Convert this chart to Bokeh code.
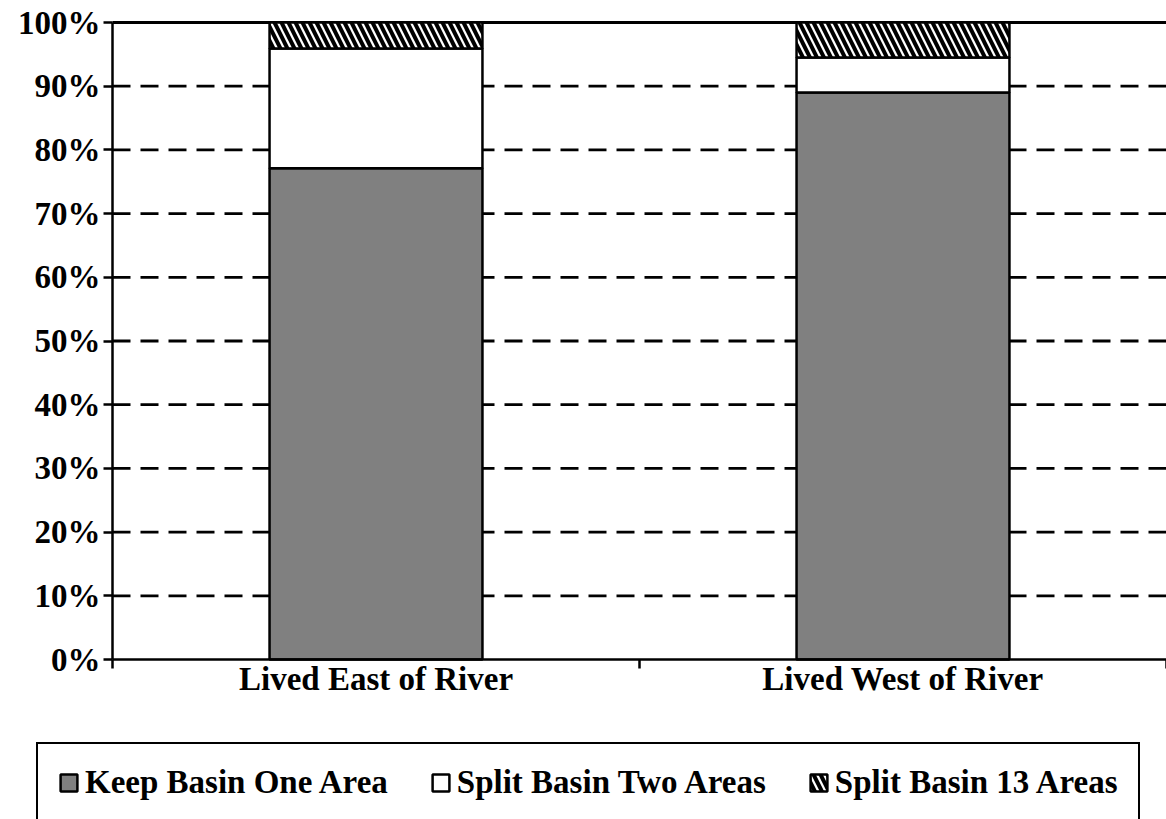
from bokeh.plotting import figure
from bokeh.models import (ColumnDataSource, FixedTicker, Legend, LegendItem, Range1d)
from bokeh.embed import file_html
from bokeh.resources import INLINE

categories = ["Lived East of River", "Lived West of River"]
series_names = ["Keep Basin One Area", "Split Basin Two Areas", "Split Basin 13 Areas"]
keep_one = [0.771, 0.890]
split_two = [0.188, 0.055]
split_13 = [0.041, 0.055]
y_ticks = [0.0, 0.1, 0.2, 0.3, 0.4, 0.5, 0.6, 0.7, 0.8, 0.9, 1.0]
y_labels = ["0%", "10%", "20%", "30%", "40%", "50%", "60%", "70%", "80%", "90%", "100%"]

FONT = "Liberation Serif"
FS = "33px"

# layout geometry (pixels)
W, H = 1166, 819
AXIS_LEFT_PX, TOP_PX, ZERO_PX = 112, 22, 659
n = len(categories)
px_per_y = (ZERO_PX - TOP_PX) / 1.0
px_per_x = (W - AXIS_LEFT_PX) / n

xpos = [i + 0.5 for i in range(n)]
source = ColumnDataSource(dict(x=xpos, keep=keep_one, two=split_two, s13=split_13))

p = figure(width=W, height=H, output_backend="svg", toolbar_location=None,
           x_range=Range1d(-AXIS_LEFT_PX / px_per_x, n),
           y_range=Range1d(-(H - ZERO_PX) / px_per_y, 1 + TOP_PX / px_per_y),
           min_border=0)
p.outline_line_color = None
p.background_fill_color = "white"
p.border_fill_color = "white"
p.xgrid.visible = False
p.ygrid.visible = False

# dashed gridlines (10%..90%) and solid line at 100%
grid_vals = y_ticks[1:-1]
p.segment(x0=[0] * len(grid_vals), x1=[n] * len(grid_vals), y0=grid_vals, y1=grid_vals,
          line_color="black", line_width=2.8, line_dash="18 10")
p.segment(x0=[0], x1=[n], y0=[y_ticks[-1]], y1=[y_ticks[-1]], line_color="black", line_width=2.8)

renderers = p.vbar_stack(["keep", "two", "s13"], x="x", width=0.404, source=source,
                         fill_color=["#808080", "white", "white"], line_color="black", line_width=2.5,
                         hatch_pattern=[" ", " ", "left_diagonal_line"], hatch_color="black",
                         hatch_scale=14, hatch_weight=4)

# y axis
p.yaxis.fixed_location = 0
p.yaxis.bounds = (0, 1)
p.yaxis.ticker = FixedTicker(ticks=y_ticks)
p.yaxis.major_label_overrides = {t: l for t, l in zip(y_ticks, y_labels)}
p.yaxis.major_label_text_font = FONT
p.yaxis.major_label_text_font_style = "bold"
p.yaxis.major_label_text_font_size = FS
p.yaxis.major_label_text_color = "black"
p.yaxis.axis_line_width = 2.5
p.yaxis.major_tick_line_width = 2.5
p.yaxis.major_tick_out = 9
p.yaxis.major_tick_in = 0
p.yaxis.minor_tick_line_color = None
p.yaxis.major_label_standoff = 3

# x axis
p.xaxis.fixed_location = 0
p.xaxis.bounds = (0, n)
p.xaxis.ticker = FixedTicker(ticks=xpos, minor_ticks=list(range(n + 1)))
p.xaxis.major_label_overrides = {x: c for x, c in zip(xpos, categories)}
p.xaxis.major_label_text_font = FONT
p.xaxis.major_label_text_font_style = "bold"
p.xaxis.major_label_text_font_size = FS
p.xaxis.major_label_text_color = "black"
p.xaxis.axis_line_width = 2.5
p.xaxis.major_tick_line_color = None
p.xaxis.major_tick_out = 0
p.xaxis.major_tick_in = 0
p.xaxis.minor_tick_line_width = 2.5
p.xaxis.minor_tick_out = 9
p.xaxis.minor_tick_in = 0
p.xaxis.major_label_standoff = -8

legend = Legend(items=[LegendItem(label=nm, renderers=[r]) for nm, r in zip(series_names, renderers)],
                orientation="horizontal", location=(36, -4), margin=0,
                label_text_font=FONT, label_text_font_style="bold", label_text_font_size=FS,
                label_text_color="black", glyph_width=21, glyph_height=21, label_standoff=6,
                spacing=42, padding=20,
                border_line_color="black", border_line_alpha=1, border_line_width=2.2,
                background_fill_color="white", background_fill_alpha=1)
p.add_layout(legend, "center")

open("out.html", "w").write(file_html(p, INLINE))
